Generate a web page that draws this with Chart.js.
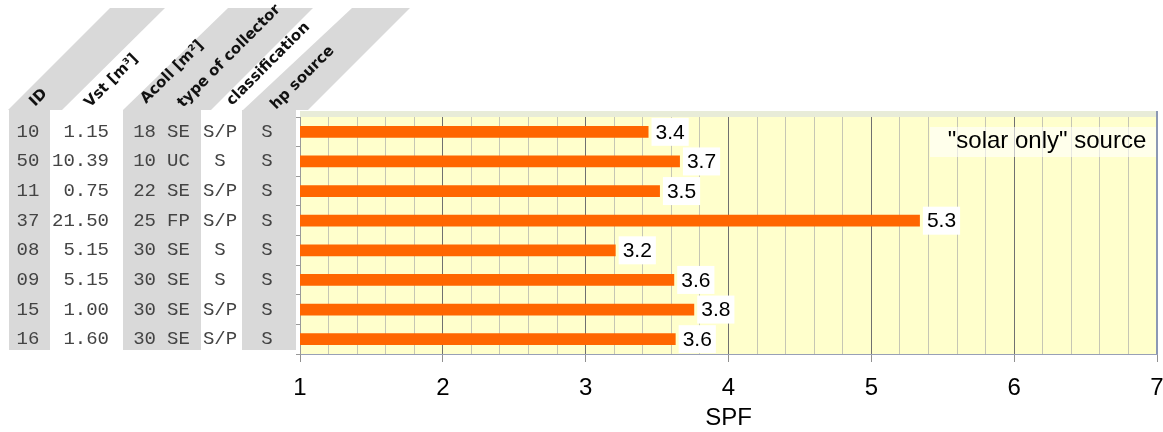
<!DOCTYPE html>
<html>
<head>
<meta charset="utf-8">
<script src="https://cdn.jsdelivr.net/npm/chart.js@4.4.0/dist/chart.umd.min.js"></script>
<style>
body{margin:0;background:#fff;}
</style>
</head>
<body>
<canvas id="spf" width="1163" height="432"></canvas>
<script>
var ids=["10","50","11","37","08","09","15","16"];
var vst=["1.15","10.39","0.75","21.50","5.15","5.15","1.00","1.60"];
var acoll=["18","10","22","25","30","30","30","30"];
var collType=["SE","UC","SE","FP","SE","SE","SE","SE"];
var classification=["S/P","S","S/P","S/P","S","S","S/P","S/P"];
var hpSource=["S","S","S","S","S","S","S","S"];
var spf=[3.44,3.66,3.52,5.34,3.21,3.62,3.76,3.63];
var headers=["ID","Vst [m³]","Acoll [m²]","type of collector","classification","hp source"];
var note='"solar only" source';

var sans='"Liberation Sans", Arial, sans-serif';
var mono='"Liberation Mono", "Courier New", monospace';

function isMajor(v){return Math.abs(v-Math.round(v))<1e-6;}

// header text anchors (start of the rotated baseline)
var headPos=[[35,107],[90,108],[146,104],[183,108],[232,106],[276,110]];
// grey diagonal bands behind the headers
var bands=[
  [[8,110],[62,110],[165,8],[110,8]],
  [[123,110],[211,110],[313,8],[228,8]],
  [[243,110],[308,110],[410,8],[352,8]]
];

var tablePlugin={
  id:'table',
  beforeDraw:function(chart){
    var ctx=chart.ctx, a=chart.chartArea;
    ctx.save();
    ctx.fillStyle='#ffffcc';
    ctx.fillRect(a.left,a.top,a.right-a.left,a.bottom-a.top);
    ctx.fillStyle='#e8ecd8';
    ctx.fillRect(a.left,a.top-6,a.right-a.left,6);
    ctx.fillStyle='#d9d9d9';
    bands.forEach(function(b){
      ctx.beginPath();
      ctx.moveTo(b[0][0],b[0][1]);
      for(var i=1;i<b.length;i++) ctx.lineTo(b[i][0],b[i][1]);
      ctx.closePath();
      ctx.fill();
    });
    [[9,50],[123,201],[242,296]].forEach(function(c){
      ctx.fillRect(c[0],110,c[1]-c[0],240);
    });
    ctx.restore();
  },
  afterDraw:function(chart){
    var ctx=chart.ctx, a=chart.chartArea, y=chart.scales.y;
    ctx.save();
    // right border of the plot
    ctx.strokeStyle='#8c98b4';
    ctx.lineWidth=2;
    ctx.beginPath();ctx.moveTo(a.right,a.top-6);ctx.lineTo(a.right,a.bottom);ctx.stroke();

    ctx.font='bold 15px "DejaVu Sans", Verdana, sans-serif';
    ctx.fillStyle='#111';
    ctx.textAlign='left';
    ctx.textBaseline='alphabetic';
    headers.forEach(function(h,i){
      ctx.save();
      ctx.translate(headPos[i][0],headPos[i][1]);
      ctx.rotate(-Math.PI/4);
      ctx.fillText(h,0,0);
      ctx.restore();
    });

    ctx.font='19px '+mono;
    ctx.fillStyle='#444';
    ctx.textBaseline='middle';
    ids.forEach(function(id,i){
      var py=y.getPixelForValue(i);
      ctx.textAlign='center'; ctx.fillText(id,28,py);
      ctx.textAlign='right'; ctx.fillText(vst[i],109,py);
      ctx.textAlign='right'; ctx.fillText(acoll[i],156,py);
      ctx.textAlign='left'; ctx.fillText(collType[i],167,py);
      ctx.textAlign='center'; ctx.fillText(classification[i],220,py);
      ctx.textAlign='center'; ctx.fillText(hpSource[i],267,py);
    });

    // value labels
    var meta=chart.getDatasetMeta(0);
    ctx.font='21px '+sans;
    meta.data.forEach(function(bar,i){
      var txt=spf[i].toFixed(1);
      var w=ctx.measureText(txt).width+8;
      ctx.fillStyle='#fff';
      ctx.fillRect(bar.x+3,bar.y-14,w,28);
      ctx.fillStyle='#000';
      ctx.textAlign='left';
      ctx.fillText(txt,bar.x+7,bar.y+1);
    });

    // note box
    ctx.fillStyle='rgba(255,255,255,0.6)';
    ctx.fillRect(930,127,a.right-931,30);
    ctx.font='24px '+sans;
    ctx.fillStyle='#000';
    ctx.textAlign='center';
    ctx.fillText(note,1047,141);
    ctx.restore();
  }
};

new Chart(document.getElementById('spf'),{
  type:'bar',
  data:{
    labels:ids,
    datasets:[{data:spf,backgroundColor:'#ff6600',borderWidth:0,barPercentage:0.4,categoryPercentage:1}]
  },
  options:{
    indexAxis:'y',
    responsive:false,
    animation:false,
    layout:{padding:{left:0,right:6,top:117,bottom:0}},
    plugins:{legend:{display:false},tooltip:{enabled:false}},
    scales:{
      x:{
        min:1,max:7,
        ticks:{stepSize:0.2,autoSkip:false,maxRotation:0,padding:12,color:'#000',
          font:{family:sans,size:24},
          callback:function(v){return isMajor(v)?String(Math.round(v)):'';}},
        grid:{
          color:function(c){return c.tick&&isMajor(c.tick.value)?'#707070':'#c6c6b4';},
          tickColor:function(c){return c.tick&&isMajor(c.tick.value)?'#909090':'rgba(0,0,0,0)';},
          tickLength:8
        },
        border:{color:'#98a0b6'},
        title:{display:true,text:'SPF',color:'#000',font:{family:sans,size:24},padding:{top:0,bottom:-1}},
        afterFit:function(s){s.height=78;s.paddingRight=0;s.paddingLeft=0;}
      },
      y:{
        ticks:{display:false},
        grid:{drawOnChartArea:false,tickLength:4,color:'#999'},
        border:{color:'#999'},
        afterFit:function(s){s.width=300;}
      }
    }
  },
  plugins:[tablePlugin]
});
</script>
</body>
</html>
